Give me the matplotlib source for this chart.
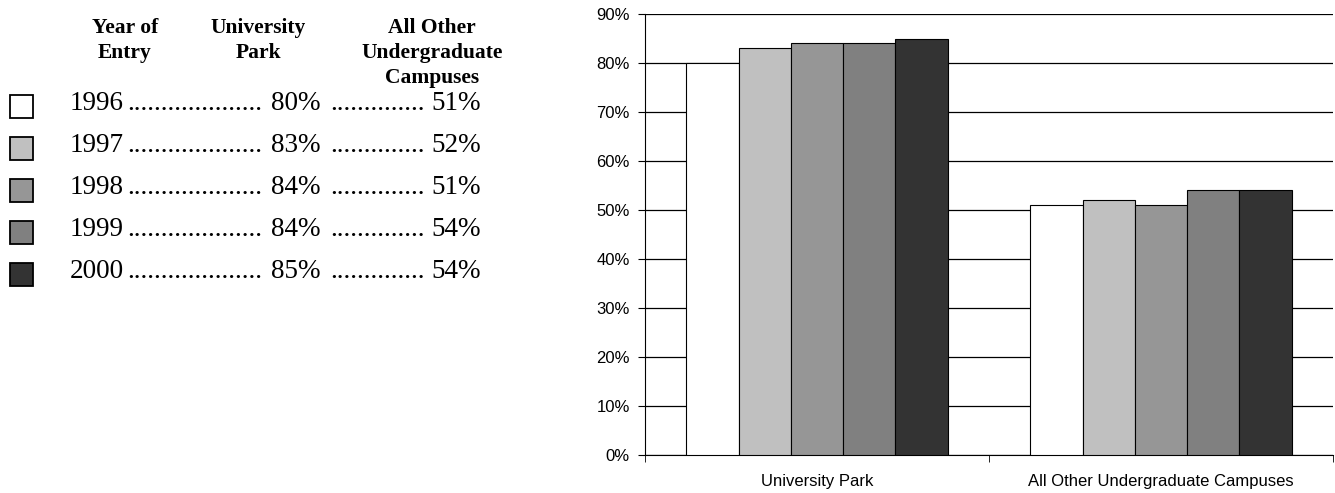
import numpy as np
import matplotlib.pyplot as plt

# данные
years = ['1996', '1997', '1998', '1999', '2000']
univ_park = [80, 83, 84, 84, 85]
other_campuses = [51, 52, 51, 54, 54]
categories = ['University Park', 'All Other Undergraduate Campuses']
colors = ['#FFFFFF', '#C0C0C0', '#969696', '#808080', '#333333']

W, H = 1335, 493
fig = plt.figure(figsize=(W / 100, H / 100), dpi=100)


def px(x, y):
    return x / W, 1 - y / H


# график справа
ax = fig.add_axes([645 / W, 1 - 455 / H, (1333 - 645) / W, (455 - 14) / H])
x = np.arange(len(categories))
bw = 0.152
for i, yr in enumerate(years):
    vals = [univ_park[i], other_campuses[i]]
    ax.bar(x - 2 * bw + i * bw, vals, width=bw, color=colors[i],
           edgecolor='black', linewidth=0.8, zorder=3)

ax.set_xlim(-0.5, 1.5)
ax.set_ylim(0, 90)
ax.set_yticks(range(0, 91, 10))
ax.set_yticklabels([f'{v}%' for v in range(0, 91, 10)], fontfamily='Liberation Sans', fontsize=12)
ax.set_xticks(x)
ax.set_xticklabels(categories, fontfamily='Liberation Sans', fontsize=12)
ax.set_xticks([-0.5, 0.5, 1.5], minor=True)
ax.tick_params(axis='x', which='major', length=0, pad=14)
ax.tick_params(axis='x', which='minor', length=5, direction='out')
ax.tick_params(axis='y', length=5, direction='out', pad=6)
ax.yaxis.grid(True, color='black', linewidth=0.9, zorder=0)
ax.set_axisbelow(True)
for s in ['top', 'right']:
    ax.spines[s].set_visible(False)
ax.spines['left'].set_color('black')
ax.spines['bottom'].set_color('black')

# таблица слева
serif = 'Liberation Serif'
headers = [('Year of\nEntry', 125), ('University\nPark', 258), ('All Other\nUndergraduate\nCampuses', 432)]
for txt, hx in headers:
    fig.text(*px(hx, 18), txt, ha='center', va='top', fontfamily=serif,
             fontweight='bold', fontsize=15.5, linespacing=1.32)

row_y = [104, 146, 188, 230, 272]
for i, yr in enumerate(years):
    ry = row_y[i]
    fig.patches.append(plt.Rectangle(px(10, ry + 14), 23 / W, 23 / H, transform=fig.transFigure,
                                     facecolor=colors[i], edgecolor='black', linewidth=1.3))
    fig.text(*px(70, ry), yr, ha='left', va='center', fontfamily=serif, fontsize=19.5)
    fig.text(*px(127, ry), '.' * 20, ha='left', va='center', fontfamily=serif, fontsize=19.5)
    fig.text(*px(320, ry), f'{univ_park[i]}%', ha='right', va='center', fontfamily=serif, fontsize=19.5)
    fig.text(*px(330, ry), '.' * 14, ha='left', va='center', fontfamily=serif, fontsize=19.5)
    fig.text(*px(481, ry), f'{other_campuses[i]}%', ha='right', va='center', fontfamily=serif, fontsize=19.5)

plt.savefig('out.png', dpi=100)
